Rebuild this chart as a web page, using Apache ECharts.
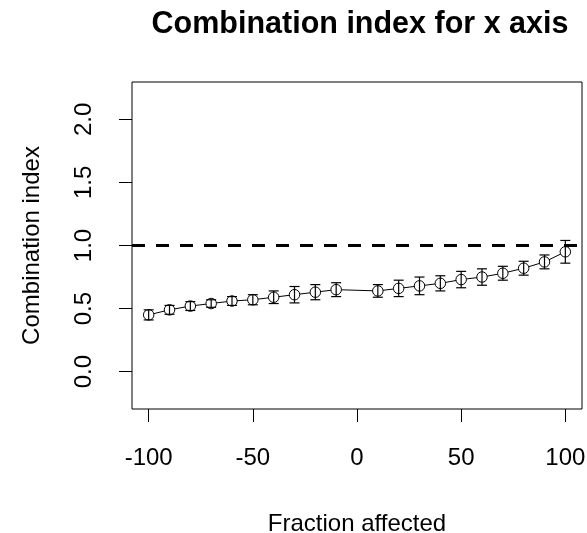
<!DOCTYPE html>
<html>
<head>
<meta charset="utf-8">
<script src="https://cdn.jsdelivr.net/npm/echarts@6/dist/echarts.min.js"></script>
<style>html,body{margin:0;padding:0;background:#fff}#c{width:587px;height:533px}</style>
</head>
<body>
<div id="c"></div>
<script>
var fraction = [-100,-90,-80,-70,-60,-50,-40,-30,-20,-10,10,20,30,40,50,60,70,80,90,100];
var ciValues = [0.45,0.49,0.52,0.54,0.56,0.57,0.59,0.61,0.63,0.65,0.64,0.66,0.68,0.70,0.73,0.75,0.78,0.82,0.87,0.95];
var ciError  = [0.04,0.035,0.035,0.03,0.035,0.04,0.05,0.065,0.06,0.055,0.05,0.065,0.07,0.06,0.065,0.065,0.055,0.055,0.055,0.09];
var xTicks = [-100,-50,0,50,100];
var yTicks = [0,0.5,1,1.5,2];
var refLine = 1.0;

var lineData = fraction.map(function(x,i){return [x, ciValues[i]];});
var errData = fraction.map(function(x,i){return [x, ciValues[i]-ciError[i], ciValues[i]+ciError[i]];});

var FONT = 'Liberation Sans, Arial, sans-serif';
var chart = echarts.init(document.getElementById('c'), null, {renderer:'canvas'});
chart.setOption({
  backgroundColor:'#fff',
  animation:false,
  title:{
    text:'Combination index for x axis',
    left:355, textAlign:'center', top:4,
    textStyle:{fontFamily:FONT, fontSize:30.5, fontWeight:'bold', color:'#000'}
  },
  grid:{left:132, right:5, top:82, bottom:124, containLabel:false, outerBoundsMode:'none',
    show:true, borderColor:'#000', borderWidth:1, backgroundColor:'transparent'},
  xAxis:{
    type:'value', min:-108, max:108,
    name:'Fraction affected', nameLocation:'middle', nameGap:103,
    nameTextStyle:{fontFamily:FONT, fontSize:24, color:'#000'},
    axisLine:{show:false, onZero:false},
    splitLine:{show:false},
    axisTick:{show:true, length:13, lineStyle:{color:'#000', width:1}, customValues:xTicks},
    axisLabel:{show:true, margin:37, fontFamily:FONT, fontSize:24, color:'#000', customValues:xTicks}
  },
  yAxis:{
    type:'value', min:-0.296, max:2.296,
    name:'Combination index', nameLocation:'middle', nameGap:88,
    nameTextStyle:{fontFamily:FONT, fontSize:24, color:'#000'},
    axisLine:{show:false, onZero:false},
    splitLine:{show:false},
    axisTick:{show:true, length:13, lineStyle:{color:'#000', width:1}, customValues:yTicks},
    axisLabel:{show:true, margin:36, rotate:90, fontFamily:FONT, fontSize:24, color:'#000', customValues:yTicks,
      formatter:function(v){return v.toFixed(1);}}
  },
  series:[
    {
      type:'line', data:lineData, symbol:'circle', symbolSize:10.5, showSymbol:true,
      lineStyle:{color:'#000', width:1},
      itemStyle:{color:'#fff', borderColor:'#000', borderWidth:1},
      z:2,
      markLine:{
        silent:true, symbol:['none','none'], label:{show:false},
        lineStyle:{color:'#000', width:3, type:[13,11]},
        data:[{yAxis:refLine}]
      }
    },
    {
      type:'custom', data:errData, z:3,
      renderItem:function(params, api){
        var x = api.value(0);
        var lo = api.coord([x, api.value(1)]);
        var hi = api.coord([x, api.value(2)]);
        var w = 5;
        var st = {stroke:'#000', lineWidth:1.2};
        return {type:'group', children:[
          {type:'line', shape:{x1:lo[0], y1:lo[1], x2:hi[0], y2:hi[1]}, style:st},
          {type:'line', shape:{x1:lo[0]-w, y1:lo[1], x2:lo[0]+w, y2:lo[1]}, style:st},
          {type:'line', shape:{x1:hi[0]-w, y1:hi[1], x2:hi[0]+w, y2:hi[1]}, style:st}
        ]};
      }
    }
  ]
});
</script>
</body>
</html>
